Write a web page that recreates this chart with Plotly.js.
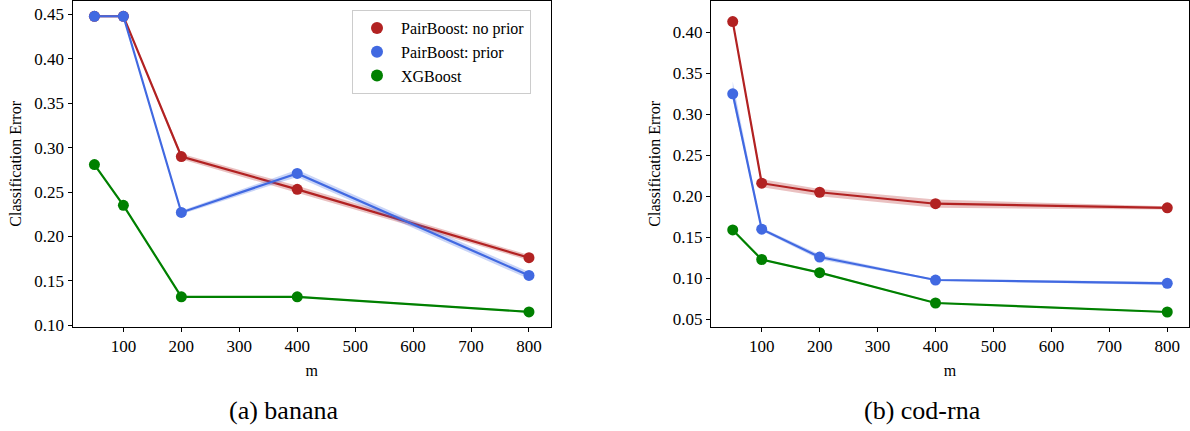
<!DOCTYPE html>
<html>
<head>
<meta charset="utf-8">
<script src="https://cdn.plot.ly/plotly-3.0.1.min.js"></script>
<style>html,body{margin:0;padding:0;background:#fff;}#chart{width:1190px;height:431px;}</style>
</head>
<body>
<div id="chart"></div>
<script>
// ---- data ----
const m = [50, 100, 200, 400, 800];
const seriesNames = ["PairBoost: no prior", "PairBoost: prior", "XGBoost"];
const seriesColors = ["#b22222", "#4169e1", "#008000"];
const bandColors = ["rgba(178,34,34,0.28)", "rgba(65,105,225,0.28)", "rgba(0,128,0,0.28)"];

// (a) banana
const bananaNoPrior   = [0.448, 0.448, 0.290, 0.253, 0.176];
const bananaNoPriorLo = [0.447, 0.447, 0.287, 0.249, 0.173];
const bananaNoPriorHi = [0.449, 0.449, 0.293, 0.257, 0.179];
const bananaPrior     = [0.448, 0.448, 0.227, 0.271, 0.156];
const bananaPriorLo   = [0.447, 0.447, 0.225, 0.267, 0.152];
const bananaPriorHi   = [0.449, 0.449, 0.229, 0.275, 0.160];
const bananaXGB       = [0.281, 0.235, 0.132, 0.132, 0.115];
const bananaXGBLo     = [0.280, 0.234, 0.131, 0.131, 0.114];
const bananaXGBHi     = [0.282, 0.236, 0.133, 0.133, 0.116];

// (b) cod-rna
const codNoPrior   = [0.413, 0.216, 0.205, 0.191, 0.186];
const codNoPriorLo = [0.411, 0.211, 0.200, 0.186, 0.184];
const codNoPriorHi = [0.415, 0.221, 0.209, 0.196, 0.188];
const codPrior     = [0.325, 0.160, 0.126, 0.098, 0.094];
const codPriorLo   = [0.318, 0.158, 0.123, 0.097, 0.092];
const codPriorHi   = [0.340, 0.162, 0.129, 0.099, 0.096];
const codXGB       = [0.159, 0.123, 0.107, 0.070, 0.059];
const codXGBLo     = [0.158, 0.122, 0.106, 0.069, 0.058];
const codXGBHi     = [0.160, 0.124, 0.108, 0.071, 0.060];

const xTicks = [100, 200, 300, 400, 500, 600, 700, 800];
const yTicksA = [0.10, 0.15, 0.20, 0.25, 0.30, 0.35, 0.40, 0.45];
const yTicksB = [0.05, 0.10, 0.15, 0.20, 0.25, 0.30, 0.35, 0.40];
const captions = ["(a) banana", "(b) cod-rna"];
const yTitle = "Classification Error";
const xTitle = "m";

// ---- build traces ----
const FONT = "'Times New Roman', 'Liberation Serif', Times, serif";
const traces = [];
function addSeries(xa, ya, vals, lo, hi, i) {
  traces.push({x: m, y: lo, xaxis: xa, yaxis: ya, mode: "lines", line: {width: 0, color: bandColors[i]},
               showlegend: false, hoverinfo: "skip"});
  traces.push({x: m, y: hi, xaxis: xa, yaxis: ya, mode: "lines", line: {width: 0, color: bandColors[i]},
               fill: "tonexty", fillcolor: bandColors[i], showlegend: false, hoverinfo: "skip"});
  traces.push({x: m, y: vals, xaxis: xa, yaxis: ya, mode: "lines+markers", name: seriesNames[i],
               line: {color: seriesColors[i], width: 2.2}, marker: {color: seriesColors[i], size: 11},
               showlegend: false});
}
const dataA = [[bananaNoPrior, bananaNoPriorLo, bananaNoPriorHi], [bananaPrior, bananaPriorLo, bananaPriorHi], [bananaXGB, bananaXGBLo, bananaXGBHi]];
const dataB = [[codNoPrior, codNoPriorLo, codNoPriorHi], [codPrior, codPriorLo, codPriorHi], [codXGB, codXGBLo, codXGBHi]];
dataA.forEach((d, i) => addSeries("x", "y", d[0], d[1], d[2], i));
dataB.forEach((d, i) => addSeries("x2", "y2", d[0], d[1], d[2], i));
// legend entries (markers only)
seriesNames.forEach((n, i) => traces.push({x: [null], y: [null], xaxis: "x", yaxis: "y", mode: "markers", name: n,
  marker: {color: seriesColors[i], size: 12}, showlegend: true}));

const W = 1190, H = 431;
const tf = {family: FONT, size: 17, color: "#000"};
const axBase = {
  showgrid: false, zeroline: false, showline: true, linecolor: "#000", linewidth: 1.2, mirror: true,
  ticks: "outside", ticklen: 4, tickwidth: 1, tickcolor: "#000"
};
const yDom = [1 - 326.7 / H, 1 - 1 / H];
const layout = {
  width: W, height: H,
  margin: {l: 0, r: 0, t: 0, b: 0},
  paper_bgcolor: "#fff", plot_bgcolor: "#fff",
  font: {family: FONT, color: "#000", size: 16},
  showlegend: true,
  legend: {x: 352 / W, y: 1 - 10 / H, xanchor: "left", yanchor: "top", traceorder: "normal",
           bgcolor: "rgba(255,255,255,0.85)", bordercolor: "#cccccc", borderwidth: 1,
           font: {family: FONT, size: 16, color: "#000"}, tracegroupgap: 0, itemwidth: 38},
  xaxis: Object.assign({}, axBase, {domain: [72.7 / W, 550.7 / W], range: [12.5, 837.5], tickvals: xTicks,
          tickfont: tf, anchor: "y", title: {text: xTitle, font: {family: FONT, size: 16, color: "#000"}, standoff: 9}}),
  yaxis: Object.assign({}, axBase, {domain: yDom, range: [0.0983, 0.4652], tickvals: yTicksA,
          tickfont: tf, tickformat: ".2f", anchor: "x", title: {text: yTitle, font: {family: FONT, size: 16, color: "#000"}, standoff: 8}}),
  xaxis2: Object.assign({}, axBase, {domain: [711 / W, 1189 / W], range: [12.5, 837.5], tickvals: xTicks,
          tickfont: tf, anchor: "y2", title: {text: xTitle, font: {family: FONT, size: 16, color: "#000"}, standoff: 9}}),
  yaxis2: Object.assign({}, axBase, {domain: yDom, range: [0.0411, 0.4381], tickvals: yTicksB,
          tickfont: tf, tickformat: ".2f", anchor: "x2", title: {text: yTitle, font: {family: FONT, size: 16, color: "#000"}, standoff: 8}}),
  annotations: [
    {text: captions[0], xref: "paper", yref: "paper", x: 283 / W, y: 1 - 410 / H, xanchor: "center", yanchor: "middle",
     showarrow: false, font: {family: FONT, size: 26, color: "#000"}},
    {text: captions[1], xref: "paper", yref: "paper", x: 922 / W, y: 1 - 410 / H, xanchor: "center", yanchor: "middle",
     showarrow: false, font: {family: FONT, size: 26, color: "#000"}}
  ]
};
Plotly.newPlot("chart", traces, layout, {displayModeBar: false, staticPlot: true});
</script>
</body>
</html>
